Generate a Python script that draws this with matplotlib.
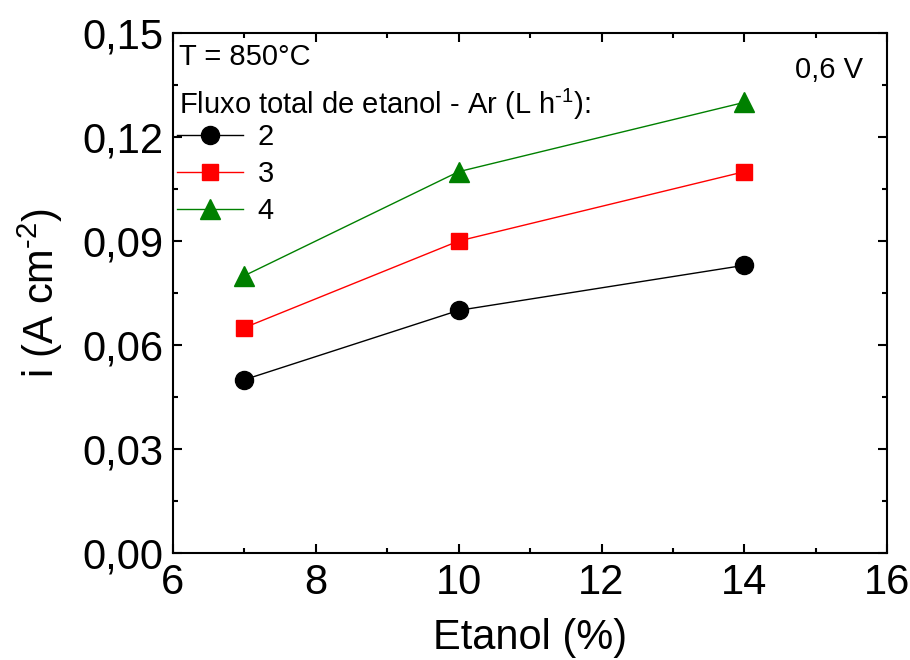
import matplotlib
matplotlib.use("Agg")
import matplotlib.pyplot as plt
from matplotlib.ticker import MultipleLocator, FuncFormatter

plt.rcParams['font.family'] = ['Liberation Sans', 'DejaVu Sans']
plt.rcParams['mathtext.fontset'] = 'custom'
plt.rcParams['mathtext.rm'] = 'Liberation Sans'
plt.rcParams['mathtext.it'] = 'Liberation Sans:italic'
plt.rcParams['mathtext.bf'] = 'Liberation Sans:bold'

etanol = [7, 10, 14]
flux_labels = ['2', '3', '4']
i_2 = [0.050, 0.070, 0.083]
i_3 = [0.065, 0.090, 0.110]
i_4 = [0.080, 0.110, 0.130]

fig = plt.figure(figsize=(9.1, 6.6), dpi=100)
ax = fig.add_axes([0.190, 0.162, 0.785, 0.788])

ax.plot(etanol, i_2, color='black', marker='o', ms=13, lw=1, label=flux_labels[0])
ax.plot(etanol, i_3, color='red', marker='s', ms=11.5, lw=1, label=flux_labels[1])
ax.plot(etanol, i_4, color='green', marker='^', ms=15, lw=1, label=flux_labels[2])

ax.set_xlim(6, 16)
ax.set_ylim(0, 0.15)
ax.xaxis.set_major_locator(MultipleLocator(2))
ax.xaxis.set_minor_locator(MultipleLocator(1))
ax.yaxis.set_major_locator(MultipleLocator(0.03))
ax.yaxis.set_minor_locator(MultipleLocator(0.015))
ax.yaxis.set_major_formatter(FuncFormatter(lambda v, p: f"{v:.2f}".replace('.', ',')))

ax.tick_params(which='both', direction='in', top=True, right=True, width=1.5)
ax.tick_params(which='major', length=6.5, labelsize=30, pad=7)
ax.tick_params(which='minor', length=3.5)
for s in ax.spines.values():
    s.set_linewidth(1.5)

ax.set_xlabel('Etanol (%)', fontsize=30, labelpad=11)
ax.set_ylabel(r'i (A cm$^{\text{-2}}$)', fontsize=30, labelpad=12)

ax.text(0.008, 0.98, 'T = 850°C', transform=ax.transAxes, fontsize=21, va='top', ha='left')
ax.text(0.008, 0.897, r'Fluxo total de etanol - Ar (L h$^{\text{-1}}$):', transform=ax.transAxes,
        fontsize=21, va='top', ha='left')
ax.text(0.966, 0.955, '0,6 V', transform=ax.transAxes, fontsize=21, va='top', ha='right')

leg = ax.legend(loc='upper left', bbox_to_anchor=(0.006, 0.826), frameon=False, fontsize=21,
                handlelength=2.25, handletextpad=0.5, labelspacing=0.3, borderaxespad=0,
                borderpad=0)

fig.savefig('out.png', dpi=100)
